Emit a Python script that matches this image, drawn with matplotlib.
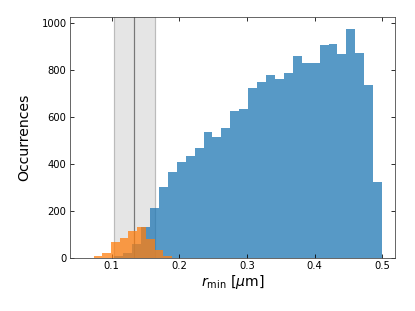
import numpy as np
import matplotlib
matplotlib.use('Agg')
import matplotlib.pyplot as plt

# blue histogram: 30 bins between 0.1038 and 0.5
blue_start, blue_stop = 0.1038, 0.5
blue_counts = [10, 21, 58, 132, 215, 302, 368, 407, 435, 469, 535, 515, 556, 626,
               633, 725, 748, 781, 764, 788, 861, 831, 831, 908, 913, 869, 976, 873, 737, 326]

# orange histogram: 9 bins between 0.0734 and 0.1891
orange_start, orange_stop = 0.0734, 0.1891
orange_counts = [8, 20, 67, 84, 115, 131, 80, 36, 8]

# shaded band: centre and half width
band_center = 0.1335
band_half = 0.030


def show_chart():
    fig = plt.figure(figsize=(415 / 72, 311 / 72), dpi=72)
    ax = fig.add_axes([0.1687, 0.1704, 0.7831, 0.7749])

    blue_edges = np.linspace(blue_start, blue_stop, len(blue_counts) + 1)
    orange_edges = np.linspace(orange_start, orange_stop, len(orange_counts) + 1)

    ax.axvspan(band_center - band_half, band_center + band_half, color='#e5e5e5', zorder=0)
    ax.axvline(band_center - band_half, color='#bbbbbb', lw=1.2, zorder=0.5)
    ax.axvline(band_center + band_half, color='#bbbbbb', lw=1.2, zorder=0.5)
    ax.axvline(band_center, color='#777777', lw=1.2, zorder=0.5)

    ax.hist(blue_edges[:-1], bins=blue_edges, weights=blue_counts, color='#1f77b4', alpha=0.75, zorder=1)
    ax.hist(orange_edges[:-1], bins=orange_edges, weights=orange_counts, color='#ff7f0e', alpha=0.75, zorder=2)

    ax.set_xlim(0.0384, 0.519)
    ax.set_ylim(0, 1027)
    ax.set_xticks([0.1, 0.2, 0.3, 0.4, 0.5])
    ax.set_yticks([0, 200, 400, 600, 800, 1000])
    ax.tick_params(direction='in', top=True, right=True, labelsize=10, length=4)
    ax.tick_params(axis='x', pad=3)
    for s in ax.spines.values():
        s.set_color('#444444')
    ax.set_xlabel(r'$r_{\rm min}$ [$\mu$m]', fontsize=14, labelpad=2)
    ax.set_ylabel('Occurrences', fontsize=14, labelpad=10)
    fig.savefig('out.png', dpi=72)


if __name__ == '__main__':
    show_chart()
